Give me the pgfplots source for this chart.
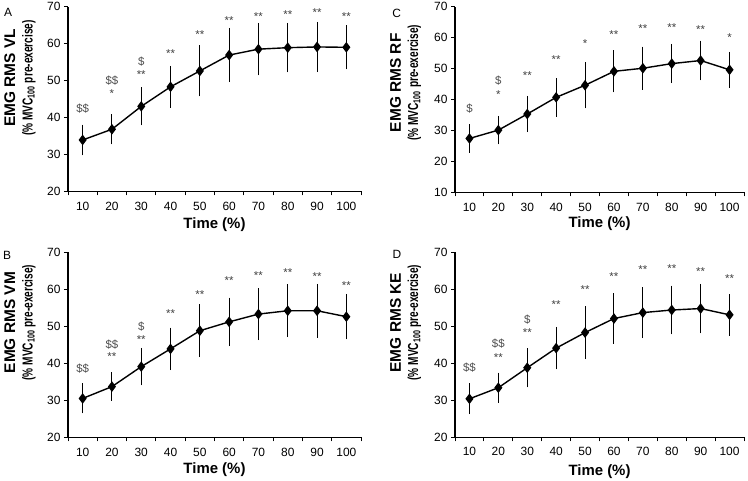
\documentclass[border=0pt]{standalone}
\usepackage{pgfplots}
\pgfplotsset{compat=1.18}
\usepackage{fontspec}
\setmainfont{Liberation Sans}
\newfontfamily\narrowfont[FakeStretch=0.7]{Liberation Sans}
\newcommand{\ylabtwo}{{\narrowfont\bfseries\fontsize{14.5}{15}\selectfont (\% MVC\textsubscript{100} pre-exercise)}}
\pgfplotsset{
 panel/.style={
  scale only axis, anchor=south west, clip=false,
  axis lines=left, axis line style={-, line width=1.1bp, black},
  tick align=outside, major tick length=4bp, minor tick length=4bp,
  tick style={line width=1bp, black},
  xmin=5, xmax=105, xtick={10,20,...,100}, minor xtick={5,15,...,105},
  major x tick style={draw=none},
  ymax=70,
  tick label style={font=\fontsize{12}{13}\selectfont},
  /pgf/number format/assume math mode=true,
  xlabel={Time (\%)},
  xlabel style={font=\fontsize{15}{17}\selectfont\bfseries, at={(axis description cs:0.5,0)}, anchor=center},
  ylabel style={font=\fontsize{15.5}{17.5}\selectfont\bfseries, align=center, anchor=center},
 },
 dat/.style={black, line width=1.4bp, mark=diamond*, mark size=4.2bp, mark options={solid, fill=black},
  error bars/.cd, y dir=both, y explicit,
  error bar style={line width=1bp, black},
  error mark options={black, line width=1bp, mark size=2bp}},
}
\tikzset{
 dol/.style={anchor=base, yshift=-4.0bp, font=\fontsize{11.5}{12}\selectfont, text=black!70, inner sep=0pt},
 ast/.style={anchor=base, yshift=-6.8bp, font=\fontsize{11.5}{12}\selectfont, text=black!75, inner sep=0pt},
}
\begin{document}
\begin{tikzpicture}
\useasboundingbox (0,0) rectangle (748bp,481bp);

% ---------- A ----------
\begin{axis}[panel, at={(68bp,289.7bp)}, width=293bp, height=184.6bp,
  ymin=20, ytick={20,30,...,70},
  x tick label style={yshift=-3bp},
  xlabel style={yshift=-33.7bp},
  ylabel style={at={(axis description cs:-0.164,0.614)}},
  ylabel={EMG RMS VL\\\ylabtwo}]
\addplot[dat] coordinates {
 (10,33.9) +- (0,3.65)
 (20,36.8) +- (0,3.55)
 (30,43.0) +- (0,4.6)
 (40,48.3) +- (0,5.15)
 (50,52.6) +- (0,6.35)
 (60,56.9) +- (0,6.8)
 (70,58.5) +- (0,6.55)
 (80,58.9) +- (0,6.15)
 (90,59.1) +- (0,6.25)
 (100,59.0) +- (0,5.45)
};
\node[dol] at (axis cs:10,42.4) {\$\$};
\node[dol] at (axis cs:20,50.0) {\$\$};
\node[ast] at (axis cs:20,47.2) {*};
\node[dol] at (axis cs:30,55.2) {\$};
\node[ast] at (axis cs:30,52.3) {**};
\node[ast] at (axis cs:40,58.2) {**};
\node[ast] at (axis cs:50,63.3) {**};
\node[ast] at (axis cs:60,67.0) {**};
\node[ast] at (axis cs:70,68.1) {**};
\node[ast] at (axis cs:80,68.6) {**};
\node[ast] at (axis cs:90,69.1) {**};
\node[ast] at (axis cs:100,68.1) {**};
\end{axis}

% ---------- C ----------
\begin{axis}[panel, at={(455bp,288.7bp)}, width=289bp, height=185.6bp,
  ymin=10, ytick={10,20,...,70},
  x tick label style={yshift=-3.5bp},
  xlabel style={yshift=-31bp},
  ylabel style={at={(axis description cs:-0.171,0.59)}},
  ylabel={EMG RMS RF\\\ylabtwo}]
\addplot[dat] coordinates {
 (10,27.4) +- (0,3.9)
 (20,30.1) +- (0,3.95)
 (30,35.3) +- (0,5.2)
 (40,40.7) +- (0,5.6)
 (50,44.6) +- (0,6.8)
 (60,49.1) +- (0,6.15)
 (70,50.1) +- (0,6.35)
 (80,51.6) +- (0,5.7)
 (90,52.6) +- (0,5.75)
 (100,49.6) +- (0,5.15)
};
\node[dol] at (axis cs:10,37.1) {\$};
\node[dol] at (axis cs:20,46.1) {\$};
\node[ast] at (axis cs:20,42.6) {*};
\node[ast] at (axis cs:30,48.8) {**};
\node[ast] at (axis cs:40,53.9) {**};
\node[ast] at (axis cs:50,59.1) {*};
\node[ast] at (axis cs:60,61.8) {**};
\node[ast] at (axis cs:70,63.7) {**};
\node[ast] at (axis cs:80,64.2) {**};
\node[ast] at (axis cs:90,63.5) {**};
\node[ast] at (axis cs:100,61.0) {*};
\end{axis}

% ---------- B ----------
\begin{axis}[panel, at={(68bp,43.7bp)}, width=293bp, height=185bp,
  ymin=20, ytick={20,30,...,70},
  x tick label style={yshift=-3bp},
  xlabel style={yshift=-32.7bp},
  ylabel style={at={(axis description cs:-0.164,0.62)}},
  ylabel={EMG RMS VM\\\ylabtwo}]
\addplot[dat] coordinates {
 (10,30.5) +- (0,3.5)
 (20,33.7) +- (0,3.3)
 (30,39.1) +- (0,4.5)
 (40,43.9) +- (0,5.2)
 (50,48.8) +- (0,6.6)
 (60,51.2) +- (0,6.0)
 (70,53.3) +- (0,6.5)
 (80,54.2) +- (0,6.6)
 (90,54.2) +- (0,6.7)
 (100,52.6) +- (0,5.6)
};
\node[dol] at (axis cs:10,38.7) {\$\$};
\node[dol] at (axis cs:20,45.2) {\$\$};
\node[ast] at (axis cs:20,42.5) {**};
\node[dol] at (axis cs:30,49.9) {\$};
\node[ast] at (axis cs:30,47.2) {**};
\node[ast] at (axis cs:40,54.1) {**};
\node[ast] at (axis cs:50,59.4) {**};
\node[ast] at (axis cs:60,63.2) {**};
\node[ast] at (axis cs:70,64.4) {**};
\node[ast] at (axis cs:80,65.3) {**};
\node[ast] at (axis cs:90,64.1) {**};
\node[ast] at (axis cs:100,61.8) {**};
\end{axis}

% ---------- D ----------
\begin{axis}[panel, at={(455bp,43.7bp)}, width=289bp, height=185bp,
  ymin=20, ytick={20,30,...,70},
  x tick label style={yshift=-2bp},
  xlabel style={yshift=-34bp},
  ylabel style={at={(axis description cs:-0.171,0.62)}},
  ylabel={EMG RMS KE\\\ylabtwo}]
\addplot[dat] coordinates {
 (10,30.4) +- (0,3.6)
 (20,33.4) +- (0,3.55)
 (30,38.8) +- (0,4.75)
 (40,44.1) +- (0,5.2)
 (50,48.3) +- (0,6.6)
 (60,52.1) +- (0,6.3)
 (70,53.7) +- (0,6.35)
 (80,54.4) +- (0,6.05)
 (90,54.8) +- (0,6.15)
 (100,53.1) +- (0,5.05)
};
\node[dol] at (axis cs:10,38.8) {\$\$};
\node[dol] at (axis cs:20,45.3) {\$\$};
\node[ast] at (axis cs:20,42.3) {**};
\node[dol] at (axis cs:30,51.9) {\$};
\node[ast] at (axis cs:30,49.0) {**};
\node[ast] at (axis cs:40,56.6) {**};
\node[ast] at (axis cs:50,60.7) {**};
\node[ast] at (axis cs:60,64.1) {**};
\node[ast] at (axis cs:70,66.0) {**};
\node[ast] at (axis cs:80,66.3) {**};
\node[ast] at (axis cs:90,65.5) {**};
\node[ast] at (axis cs:100,63.6) {**};
\end{axis}

\node[font=\fontsize{12}{14}\selectfont] at (8bp,469bp) {A};
\node[font=\fontsize{12}{14}\selectfont] at (396.7bp,468bp) {C};
\node[font=\fontsize{12}{14}\selectfont] at (7bp,226bp) {B};
\node[font=\fontsize{12}{14}\selectfont] at (397bp,227bp) {D};
\end{tikzpicture}
\end{document}
